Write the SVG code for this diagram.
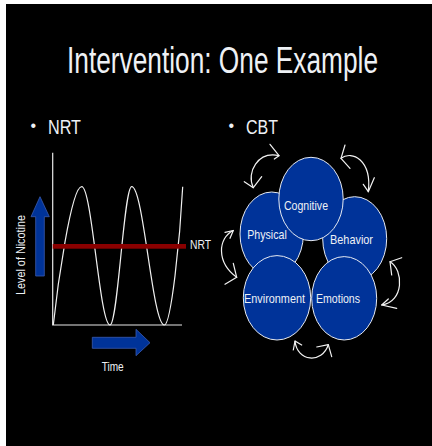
<svg xmlns="http://www.w3.org/2000/svg" width="432" height="446" viewBox="0 0 432 446">
<style>
  .t { font-family: "Liberation Sans", Arial, sans-serif; fill: #eef1f5; }
  .node ellipse { fill: #003399; stroke: #e6eaf2; stroke-width: 1; }
  .node text { font-family: "Liberation Sans", Arial, sans-serif; fill: #eef1f5; font-size: 13.5px; }
  .conn path { fill: none; stroke: #f2f2f2; stroke-width: 1.2; stroke-linecap: round; stroke-linejoin: round; }
  .axis { stroke: #e8e8e8; stroke-width: 1.2; fill: none; }
  .barrow { fill: #003399; stroke: #3a5cb0; stroke-width: 0.8; }
</style>
<rect x="0" y="0" width="432" height="446" fill="#ffffff"/>
<rect x="6" y="4" width="426" height="442" fill="#000000"/>

<text class="t" x="67" y="73" font-size="37" textLength="311" lengthAdjust="spacingAndGlyphs">Intervention: One Example</text>

<text class="t" x="30.5" y="131" font-size="16">•</text>
<text class="t" x="48" y="133.5" font-size="20" textLength="33" lengthAdjust="spacingAndGlyphs">NRT</text>
<text class="t" x="228.5" y="131" font-size="16">•</text>
<text class="t" x="246" y="133.5" font-size="20" textLength="32" lengthAdjust="spacingAndGlyphs">CBT</text>

<g id="nrt-chart">
  <path class="axis" d="M52.7,152.7 V325 H182"/>
  <path d="M53.3,325 C57,290 71,186.7 81.7,186.7 C92,186.7 99.7,325 110,325 C117.9,325 123.8,186.7 131.7,186.7 C143.6,186.7 152.4,325 164.3,325 C171,325 180,240 182.7,186.7" fill="none" stroke="#f0f0f0" stroke-width="1.2"/>
  <rect x="52.7" y="244" width="133.3" height="4.7" fill="#8a0000"/>
  <text class="t" x="190" y="249" font-size="13" textLength="21" lengthAdjust="spacingAndGlyphs">NRT</text>
  <polygon class="barrow" points="35.7,276 35.7,216.7 31,216.7 40,196.7 49.3,216.7 44.3,216.7 44.3,276"/>
  <polygon class="barrow" points="92.3,337.3 136,337.3 136,329.3 150,342.7 136,355.7 136,348.3 92.3,348.3"/>
  <text class="t" font-size="13.5" text-anchor="middle" transform="translate(25.3,255) rotate(-90)" textLength="80" lengthAdjust="spacingAndGlyphs">Level of Nicotine</text>
  <text class="t" x="101.7" y="371" font-size="13" textLength="22" lengthAdjust="spacingAndGlyphs">Time</text>
</g>

<g id="physical" class="node">
  <ellipse cx="271.7" cy="234" rx="31.7" ry="42"/>
  <text x="247.3" y="238.5" textLength="39.5" lengthAdjust="spacingAndGlyphs">Physical</text>
</g>
<g id="behavior" class="node">
  <ellipse cx="354.7" cy="238.7" rx="32" ry="42"/>
  <text x="330" y="244" textLength="43" lengthAdjust="spacingAndGlyphs">Behavior</text>
</g>
<g id="cognitive" class="node">
  <ellipse cx="311" cy="199" rx="32.2" ry="41.7"/>
  <text x="284" y="209.5" textLength="44" lengthAdjust="spacingAndGlyphs">Cognitive</text>
</g>
<g id="environment" class="node">
  <ellipse cx="277" cy="297.8" rx="33.7" ry="42.2"/>
  <text x="244" y="302.5" textLength="61" lengthAdjust="spacingAndGlyphs">Environment</text>
</g>
<g id="emotions" class="node">
  <ellipse cx="344.2" cy="298.3" rx="32.5" ry="41.7"/>
  <text x="316" y="302.5" textLength="44" lengthAdjust="spacingAndGlyphs">Emotions</text>
</g>

<g id="connectors" class="conn">
  <path d="M253.3,187.7 C246,172 258,151 279,155.7"/>
  <path d="M244.3,181.7 L253.3,187.7 L261.7,176.7"/>
  <path d="M270,144.3 L279,155.7 L274.3,159"/>

  <path d="M341,158.3 C352,150 372,160 368.3,191.7"/>
  <path d="M345,145 L341,158.3 L350,168.3"/>
  <path d="M363.3,184.3 L368.3,191.7 L374.3,177.7"/>

  <path d="M233.3,230.5 C218,238 216,262 236.7,277.3"/>
  <path d="M225,232.3 L233.3,230.5 L230,238.3"/>
  <path d="M233.3,263.3 L236.7,277.3 L225,284.3"/>

  <path d="M390,261.7 C404,270 404,302 381.7,305"/>
  <path d="M401.7,257.7 L390,261.7 L391.7,275"/>
  <path d="M388.3,299 L381.7,305 L396.7,308.3"/>

  <path d="M295,341 C297,362 322,364 328.3,344.7"/>
  <path d="M293.3,350 L295,341 L301.7,345"/>
  <path d="M316.7,347 L328.3,344.7 L331.7,356.7"/>
</g>
</svg>
